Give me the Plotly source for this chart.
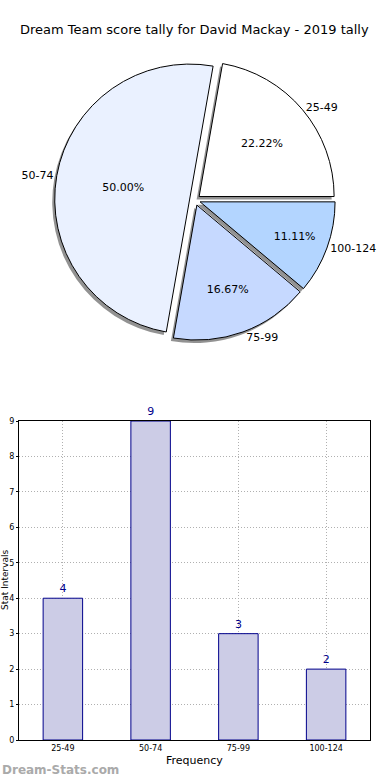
import plotly.graph_objects as go

title = "Dream Team score tally for David Mackay - 2019 tally"
categories = ["25-49", "50-74", "75-99", "100-124"]
counts = [4, 9, 3, 2]
pie_colors = ["#ffffff", "#eaf1ff", "#c6d9ff", "#b3d5ff"]
explode = [0.04, 0.04, 0.04, 0.04]

W, H = 390, 780
FONT = "DejaVu Sans"

def px_x(v):
    return v / W

def px_y(v):
    return (H - v) / H

# pie geometry (pixels)
cx, cy, r = 195, 200, 135
half = r * (1 + max(explode))
dom_x = [px_x(cx - half), px_x(cx + half)]
dom_y = [px_y(cy + half), px_y(cy - half)]
sdx, sdy = -2.5 / W, -3.0 / H
ROT = 10

fig = go.Figure()

# shadow
fig.add_trace(go.Pie(
    labels=categories, values=counts, sort=False, direction="counterclockwise",
    rotation=ROT, pull=explode,
    marker=dict(colors=["rgba(110,110,110,0.75)"] * len(counts), line=dict(width=0)),
    textinfo="none", hoverinfo="skip", showlegend=False,
    domain=dict(x=[dom_x[0] + sdx, dom_x[1] + sdx], y=[dom_y[0] + sdy, dom_y[1] + sdy]),
))
# main pie with percentages
fig.add_trace(go.Pie(
    labels=categories, values=counts, sort=False, direction="counterclockwise",
    rotation=ROT, pull=explode,
    marker=dict(colors=pie_colors, line=dict(color="#000000", width=1)),
    texttemplate="%{percent:.2%}", textposition="inside",
    insidetextorientation="horizontal",
    textfont=dict(family=FONT, size=11, color="#000000"),
    showlegend=False,
    domain=dict(x=dom_x, y=dom_y),
))
# outside labels
fig.add_trace(go.Pie(
    labels=categories, values=counts, sort=False, direction="counterclockwise",
    rotation=ROT, pull=explode,
    marker=dict(colors=["rgba(0,0,0,0)"] * len(counts), line=dict(width=0)),
    texttemplate="%{label}", textposition="outside",
    textfont=dict(family=FONT, size=11, color="#000000"),
    hoverinfo="skip", showlegend=False,
    domain=dict(x=dom_x, y=dom_y),
))

# bar chart
fig.add_trace(go.Bar(
    x=categories, y=counts, width=0.45,
    marker=dict(color="#ccccE6", line=dict(color="#00008b", width=1)),
    text=counts, texttemplate="%{y}", textposition="outside",
    textfont=dict(family=FONT, size=11, color="#00008b"),
    cliponaxis=False, showlegend=False,
    xaxis="x", yaxis="y",
))

fig.update_layout(
    width=W, height=H,
    margin=dict(l=0, r=0, t=0, b=0, autoexpand=False),
    paper_bgcolor="white", plot_bgcolor="white",
    font=dict(family=FONT, color="#000000"),
    showlegend=False,
    xaxis=dict(
        domain=[px_x(19), px_x(370)], anchor="y", automargin=False,
        range=[-0.5, 3.5], type="category",
        showline=True, mirror=True, linecolor="#000000", linewidth=1,
        showgrid=True, gridcolor="#b0b0b0", griddash="1px,2px", gridwidth=1,
        ticks="", tickfont=dict(size=8, family=FONT),
        zeroline=False,
    ),
    yaxis=dict(
        domain=[px_y(740), px_y(421)], anchor="x", automargin=False,
        range=[0, 9], dtick=1,
        showline=True, mirror=True, linecolor="#000000", linewidth=1,
        showgrid=True, gridcolor="#b0b0b0", griddash="1px,2px", gridwidth=1,
        ticks="outside", ticklen=2, tickcolor="#000000",
        tickfont=dict(size=8, family=FONT),
        zeroline=False,
    ),
    annotations=[
        dict(text=title, x=px_x(194), y=px_y(30), xref="paper", yref="paper",
             showarrow=False, xanchor="center", yanchor="middle",
             font=dict(size=13, family=FONT, color="#000000")),
        dict(text="Frequency", x=px_x(194.5), y=px_y(760), xref="paper", yref="paper",
             showarrow=False, xanchor="center", yanchor="middle",
             font=dict(size=11, family=FONT, color="#000000")),
        dict(text="Stat Intervals", x=px_x(5), y=px_y(580), xref="paper", yref="paper",
             showarrow=False, xanchor="center", yanchor="middle", textangle=-90,
             font=dict(size=9, family=FONT, color="#000000")),
        dict(text="<b>Dream-Stats.com</b>", x=0, y=px_y(770), xref="paper", yref="paper",
             showarrow=False, xanchor="left", yanchor="middle",
             font=dict(size=12, family=FONT, color="#aaaaaa")),
    ],
)

fig.write_html(
    "out.html",
    config={"displayModeBar": False},
    post_script="document.body.style.margin='0';document.body.style.padding='0';",
)
